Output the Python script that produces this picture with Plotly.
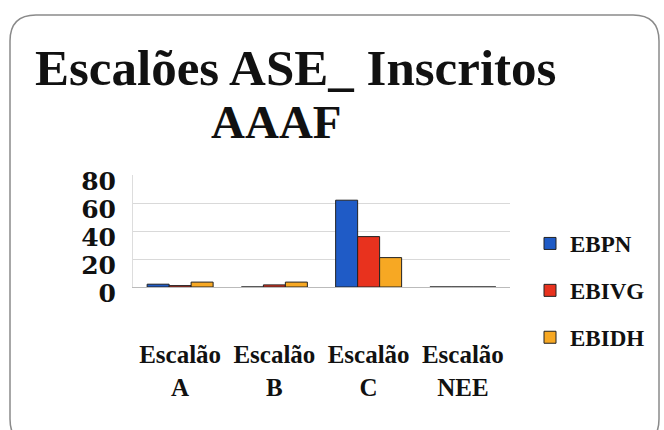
import plotly.graph_objects as go

categories = ["Escalão<br>A", "Escalão<br>B", "Escalão<br>C", "Escalão<br>NEE"]
series_names = ["EBPN", "EBIVG", "EBIDH"]
ebpn = [2, 0, 62, 0]
ebivg = [1, 1.5, 36, 0]
ebidh = [3.5, 3.5, 21, 0]
colors = ["#1F5BC6", "#E8321E", "#F7A823"]
y_ticks = [0, 20, 40, 60, 80]

W, H = 664, 430
L, R, T, B = 133, 510, 175, 287
FONT = "Liberation Serif"

fig = go.Figure()
for i, (name, vals) in enumerate(zip(series_names, [ebpn, ebivg, ebidh])):
    fig.add_trace(go.Bar(
        x=categories, y=vals, name=name, legendgroup=name,
        marker=dict(color=colors[i], line=dict(color="#222222", width=1)),
    ))

def px(x):
    return (x - L) / (R - L)

def py(y):
    return (B - y) / (B - T)

# rounded border
x0, y0, x1, y1, r = 10, 15, 659, 445, 26
path = (f"M {px(x0+r)},{py(y0)} L {px(x1-r)},{py(y0)} "
        f"Q {px(x1)},{py(y0)} {px(x1)},{py(y0+r)} "
        f"L {px(x1)},{py(y1-r)} Q {px(x1)},{py(y1)} {px(x1-r)},{py(y1)} "
        f"L {px(x0+r)},{py(y1)} Q {px(x0)},{py(y1)} {px(x0)},{py(y1-r)} "
        f"L {px(x0)},{py(y0+r)} Q {px(x0)},{py(y0)} {px(x0+r)},{py(y0)} Z")

fig.update_layout(
    width=W, height=H,
    margin=dict(l=L, r=W - R, t=T, b=H - B),
    paper_bgcolor="white", plot_bgcolor="white",
    barmode="group", bargap=0.3, bargroupgap=0,
    font=dict(family=FONT, color="#111111"),
    shapes=[dict(type="path", path=path, xref="paper", yref="paper",
                 line=dict(color="#8a8a8a", width=1.5), layer="below")],
    annotations=[
        dict(text="<b>Escalões ASE_ Inscritos</b>", x=px(33), y=py(68), xref="paper", yref="paper",
             xanchor="left", yanchor="middle", showarrow=False,
             font=dict(family=FONT, size=51, color="#111111")),
        dict(text="<b>AAAF</b>", x=px(276), y=py(122), xref="paper", yref="paper",
             xanchor="center", yanchor="middle", showarrow=False,
             font=dict(family=FONT, size=47, color="#111111")),
    ],
    legend=dict(x=px(530), y=py(222), xanchor="left", yanchor="top",
                traceorder="grouped", tracegroupgap=14, maxheight=400,
                font=dict(family=FONT, size=23, color="#111111", weight="bold"),
                itemwidth=30, bgcolor="rgba(0,0,0,0)"),
    showlegend=True,
)
fig.update_xaxes(showgrid=False, showline=True, linecolor="#bbbbbb", linewidth=1,
                 tickfont=dict(family=FONT, size=25, color="#111111", weight="bold"),
                 ticks="", ticklabelstandoff=45)
fig.update_yaxes(range=[0, 80], tickvals=y_ticks, showgrid=True, gridcolor="#d9d9d9",
                 showline=True, linecolor="#dddddd", zeroline=False,
                 tickfont=dict(family="DejaVu Serif", size=25, color="#111111", weight="bold"),
                 ticks="", ticklabelstandoff=11, ticklabelshift=6)

fig.write_html("out.html", config={"displayModeBar": False},
               post_script="document.body.style.margin='0';document.body.style.padding='0';")
